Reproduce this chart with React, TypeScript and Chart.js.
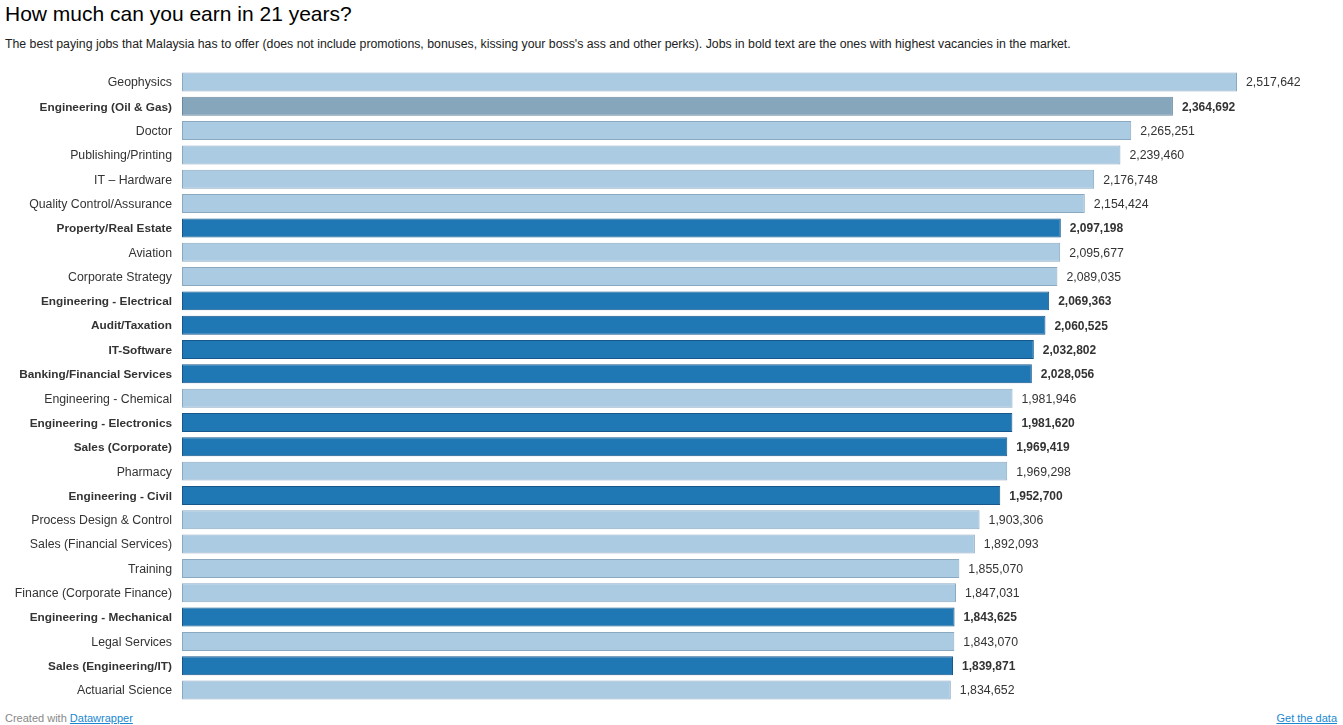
import React, { useEffect, useRef } from "react";
import { Chart, registerables } from "chart.js";

Chart.register(...registerables);

const categories = [
  "Geophysics",
  "Engineering (Oil & Gas)",
  "Doctor",
  "Publishing/Printing",
  "IT – Hardware",
  "Quality Control/Assurance",
  "Property/Real Estate",
  "Aviation",
  "Corporate Strategy",
  "Engineering - Electrical",
  "Audit/Taxation",
  "IT-Software",
  "Banking/Financial Services",
  "Engineering - Chemical",
  "Engineering - Electronics",
  "Sales (Corporate)",
  "Pharmacy",
  "Engineering - Civil",
  "Process Design & Control",
  "Sales (Financial Services)",
  "Training",
  "Finance (Corporate Finance)",
  "Engineering - Mechanical",
  "Legal Services",
  "Sales (Engineering/IT)",
  "Actuarial Science",
];

const earnings = [
  2517642, 2364692, 2265251, 2239460, 2176748, 2154424, 2097198, 2095677,
  2089035, 2069363, 2060525, 2032802, 2028056, 1981946, 1981620, 1969419,
  1969298, 1952700, 1903306, 1892093, 1855070, 1847031, 1843625, 1843070,
  1839871, 1834652,
];

// true = job with highest vacancies (bold text)
const highVacancy = [
  false, true, false, false, false, false, true, false, false, true, true,
  true, true, false, true, true, false, true, false, false, false, false,
  true, false, true, false,
];

const highlighted = "Engineering (Oil & Gas)";

const LIGHT_FILL = "#abcbe3";
const LIGHT_BORDER = "#8aa9c1";
const DARK_FILL = "#1f77b4";
const DARK_BORDER = "#17578a";
const HL_FILL = "#86a6bc";
const HL_BORDER = "#6b8aa0";

const FONT = "Arial, 'Liberation Sans', Helvetica, sans-serif";

const fmt = (v: number) => v.toLocaleString("en-US");

export default function App() {
  const canvasRef = useRef<HTMLCanvasElement | null>(null);

  useEffect(() => {
    if (!canvasRef.current) return;
    const fills = categories.map((c, i) =>
      c === highlighted ? HL_FILL : highVacancy[i] ? DARK_FILL : LIGHT_FILL
    );
    const borders = categories.map((c, i) =>
      c === highlighted ? HL_BORDER : highVacancy[i] ? DARK_BORDER : LIGHT_BORDER
    );

    const labelsPlugin = {
      id: "labelsPlugin",
      afterDatasetsDraw(chart: any) {
        const ctx = chart.ctx;
        const meta = chart.getDatasetMeta(0);
        const left = chart.chartArea.left;
        ctx.save();
        ctx.textBaseline = "middle";
        meta.data.forEach((bar: any, i: number) => {
          const bold = highVacancy[i];
          ctx.fillStyle = "#333333";
          // category label
          ctx.font = bold ? `bold 11.8px ${FONT}` : `12.3px ${FONT}`;
          ctx.textAlign = "right";
          ctx.fillText(categories[i], left - 10, bar.y + 1);
          // value label
          ctx.font = bold ? `bold 12px ${FONT}` : `12.3px ${FONT}`;
          ctx.textAlign = "left";
          ctx.fillText(fmt(earnings[i]), bar.x + 9, bar.y + 1);
        });
        ctx.restore();
      },
    };

    const chart = new Chart(canvasRef.current, {
      type: "bar",
      data: {
        labels: categories,
        datasets: [
          {
            data: earnings,
            backgroundColor: fills,
            borderColor: borders,
            borderWidth: 1,
            borderSkipped: false,
            categoryPercentage: 1,
            barPercentage: 0.78,
          },
        ],
      },
      options: {
        indexAxis: "y",
        animation: false,
        responsive: false,
        maintainAspectRatio: false,
        layout: { padding: { top: 7.8, bottom: 7.8, left: 0, right: 106 } },
        plugins: {
          legend: { display: false },
          tooltip: { enabled: false },
          title: { display: false },
        },
        scales: {
          x: {
            display: false,
            min: 0,
            max: Math.max(...earnings),
          },
          y: {
            grid: { display: false, drawTicks: false },
            border: { display: false },
            ticks: { display: false, padding: 0 },
            afterFit: (scale: any) => {
              scale.width = 182;
            },
          },
        },
      },
      plugins: [labelsPlugin],
    });
    return () => chart.destroy();
  }, []);

  return (
    <div
      style={{
        position: "fixed",
        left: 0,
        top: 0,
        width: 1343,
        height: 725,
        background: "#fff",
        fontFamily: FONT,
        color: "#000",
      }}
    >
      <div
        style={{
          position: "absolute",
          left: 5,
          top: 2,
          fontSize: 21,
          lineHeight: "24px",
          whiteSpace: "nowrap",
        }}
      >
        How much can you earn in 21 years?
      </div>
      <div
        style={{
          position: "absolute",
          left: 5,
          top: 37,
          fontSize: 12.3,
          lineHeight: "15px",
          color: "#222",
          whiteSpace: "nowrap",
        }}
      >
        The best paying jobs that Malaysia has to offer (does not include promotions, bonuses, kissing your boss's ass and other perks). Jobs in bold text are the ones with highest vacancies in the market.
      </div>
      <canvas
        ref={canvasRef}
        width={1343}
        height={648}
        style={{ position: "absolute", left: 0, top: 62, width: 1343, height: 648 }}
      />
      <div
        style={{
          position: "absolute",
          left: 5,
          top: 711,
          fontSize: 11,
          lineHeight: "14px",
          color: "#888",
          whiteSpace: "nowrap",
        }}
      >
        Created with{" "}
        <span style={{ color: "#1a87d1", textDecoration: "underline" }}>Datawrapper</span>
      </div>
      <div
        style={{
          position: "absolute",
          right: 6,
          top: 711,
          fontSize: 11,
          lineHeight: "14px",
          color: "#1a87d1",
          textDecoration: "underline",
          whiteSpace: "nowrap",
        }}
      >
        Get the data
      </div>
    </div>
  );
}
